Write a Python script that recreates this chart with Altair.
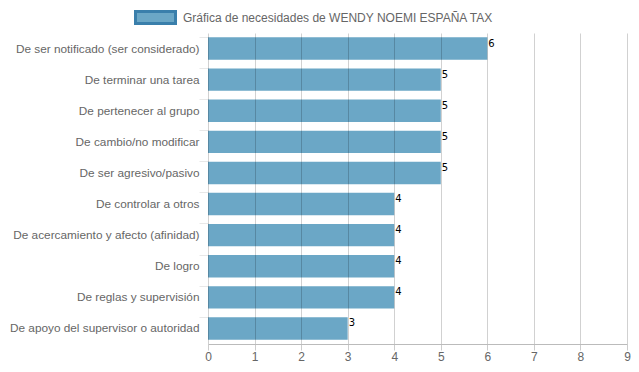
import altair as alt
import pandas as pd

categories = [
    "De ser notificado (ser considerado)",
    "De terminar una tarea",
    "De pertenecer al grupo",
    "De cambio/no modificar",
    "De ser agresivo/pasivo",
    "De controlar a otros",
    "De acercamiento y afecto (afinidad)",
    "De logro",
    "De reglas y supervisión",
    "De apoyo del supervisor o autoridad",
]
values = [6, 5, 5, 5, 5, 4, 4, 4, 4, 3]
series_name = "Gráfica de necesidades de WENDY NOEMI ESPAÑA TAX"
x_ticks = list(range(0, 10))

df = pd.DataFrame({"cat": categories, "val": values, "serie": series_name})

FONT = "Liberation Sans"

y_enc = alt.Y(
    "cat:N",
    sort=categories,
    title=None,
    scale=alt.Scale(paddingInner=0.28, paddingOuter=0.14),
    axis=alt.Axis(
        bandPosition=0,
        tickSize=9,
        labelPadding=0,
        labelFont=FONT,
        labelFontSize=11.8,
        labelColor="#666666",
        labelLimit=260,
        gridColor="#e8e8e8",
        tickColor="#e8e8e8",
        domain=False,
    ),
)

bars = alt.Chart(df).mark_bar(opacity=1).encode(
    x=alt.X(
        "val:Q",
        title=None,
        scale=alt.Scale(domain=[0, 9], nice=False),
        axis=alt.Axis(
            values=x_ticks,
            tickSize=6,
            labelPadding=1,
            labelFont=FONT,
            labelFontSize=12,
            labelColor="#666666",
            gridColor="#000000",
            gridOpacity=0.18,
            tickColor="#cccccc",
            domainColor="#bbbbbb",
            zindex=1,
            labelFlush=False,
        ),
    ),
    y=y_enc,
    color=alt.Color(
        "serie:N",
        scale=alt.Scale(range=["#6ba7c6"]),
        legend=alt.Legend(
            title=None,
            orient="none",
            legendX=-74,
            legendY=-37,
            symbolType="M-1,-0.3H1V0.3H-1Z",
            symbolSize=1600,
            symbolStrokeColor="#3a7fab",
            symbolStrokeWidth=3,
            symbolOpacity=1,
            labelFont=FONT,
            labelFontSize=12,
            labelColor="#666666",
            labelLimit=400,
            labelOffset=6,
            padding=0,
        ),
    ),
)

labels = alt.Chart(df).mark_text(
    align="left", baseline="top", dx=1, dy=-10, font="DejaVu Sans", fontSize=10, color="#000000"
).encode(
    x="val:Q",
    y=alt.Y("cat:N", sort=categories),
    text="val:Q",
)

chart = (
    alt.layer(bars, labels)
    .properties(
        width=419,
        height=311,
        padding={"left": 200, "top": 25, "right": 4, "bottom": 20},
        autosize=alt.AutoSizeParams(type="none"),
    )
    .configure_view(stroke=None)
)

chart.save("out.html", embed_options={"renderer": "svg", "actions": False})
